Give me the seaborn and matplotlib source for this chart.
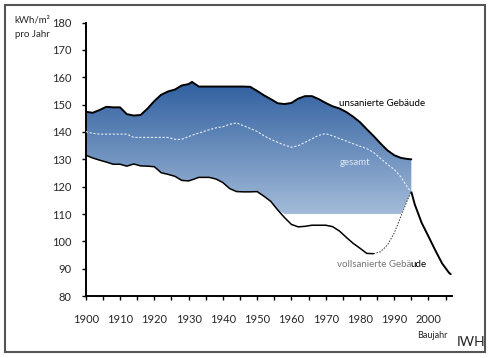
import numpy as np
import seaborn as sns
import matplotlib.pyplot as plt
from matplotlib.colors import LinearSegmentedColormap
from matplotlib.patches import Rectangle

# Baujahr grid (1900-1995) and specific heat demand in kWh/m² per year
years = [1900, 1902, 1904, 1906, 1908, 1910, 1912, 1914, 1916, 1918, 1920, 1922,
         1924, 1926, 1928, 1930, 1931, 1933, 1936, 1938, 1940, 1942, 1944, 1946,
         1948, 1950, 1952, 1954, 1956, 1958, 1960, 1962, 1964, 1966, 1968, 1970,
         1972, 1974, 1976, 1978, 1980, 1982, 1984, 1986, 1988, 1990, 1992, 1994, 1995]
unsaniert = [147.4, 147.0, 148.0, 149.2, 149.0, 149.0, 146.5, 146.0, 146.2, 148.5,
             151.3, 153.6, 154.8, 155.5, 157.0, 157.5, 158.3, 156.6, 156.6, 156.6,
             156.6, 156.6, 156.6, 156.6, 156.5, 155.0, 153.4, 152.0, 150.5, 150.2,
             150.6, 152.2, 153.1, 153.1, 152.0, 150.6, 149.4, 148.6, 147.3, 145.6,
             143.6, 141.0, 138.5, 135.8, 133.3, 131.5, 130.5, 130.1, 130.0]
vollsaniert = [131.5, 130.5, 129.7, 129.0, 128.2, 128.2, 127.5, 128.3, 127.6, 127.5,
               127.3, 125.1, 124.5, 123.8, 122.3, 122.1, 122.5, 123.4, 123.4, 122.8,
               121.5, 119.3, 118.2, 118.1, 118.1, 118.2, 116.5, 114.6, 111.5, 108.7,
               106.2, 105.3, 105.5, 105.9, 105.9, 105.9, 105.4, 103.8, 101.5, 99.3,
               97.5, 95.6, 95.5, 96.2, 98.6, 103.0, 109.3, 115.5, 118.1]
gesamt = [140.1, 139.5, 139.2, 139.2, 139.2, 139.2, 139.2, 138.0, 138.0, 138.0,
          138.0, 138.0, 138.0, 137.3, 137.3, 138.3, 138.8, 139.6, 140.8, 141.5,
          141.9, 142.8, 143.3, 142.3, 141.3, 140.2, 138.6, 137.3, 136.2, 135.2,
          134.4, 135.0, 136.2, 137.5, 138.8, 139.4, 138.6, 137.6, 136.7, 135.7,
          134.8, 133.9, 132.5, 130.3, 128.2, 126.3, 123.5, 119.5, 118.1]
# newer buildings after 1995
neu_years = [1995, 1996, 1998, 2000, 2002, 2004, 2006, 2006.5]
neu_values = [118.1, 113.5, 106.8, 101.8, 96.7, 91.9, 88.5, 88.0]
band_floor = 110  # lower limit of the shaded band

sns.set_style("white")
plt.rcParams['font.family'] = ['Lato', 'DejaVu Sans']

fig = plt.figure(figsize=(4.9, 3.58), dpi=100)
ax = fig.add_axes([0.175, 0.173, 0.747, 0.764])

yr = np.array(years)
up = np.array(unsaniert)
lo = np.array(vollsaniert)

# gradient band between unsaniert and max(vollsaniert, floor)
cmap = LinearSegmentedColormap.from_list('band', ['#a3bbd9', '#2f5f9f'])
grad = np.linspace(0, 1, 256).reshape(-1, 1)
im = ax.imshow(grad, extent=[1900, 1995, band_floor, 158.5], origin='lower',
               aspect='auto', cmap=cmap, zorder=1)
poly = ax.fill_between(yr, np.maximum(lo, band_floor), up, facecolor='none',
                       edgecolor='none')
im.set_clip_path(poly.get_paths()[0], transform=ax.transData)

sns.lineplot(x=yr, y=up, color='black', lw=1.4, ax=ax, zorder=3)
solid = yr <= 1984
sns.lineplot(x=yr[solid], y=lo[solid], color='black', lw=1.1, ax=ax, zorder=3)
sns.lineplot(x=yr[yr >= 1984], y=lo[yr >= 1984],
             color='#333333', lw=0.7, ls=(0, (1.5, 1.5)), ax=ax, zorder=3)
sns.lineplot(x=neu_years, y=neu_values, color='black', lw=1.4, ax=ax, zorder=3)
sns.lineplot(x=yr, y=gesamt, color='#e6ecf5', lw=0.8, ls=(0, (2, 1.5)), ax=ax, zorder=3)

ax.set_xlim(1900, 2006.8)
ax.set_ylim(80, 180)
ax.set_xticks(range(1900, 2001, 10))
ax.set_xticks(range(1905, 2006, 10), minor=True)
ax.set_yticks(range(80, 181, 10))
ax.tick_params(axis='x', which='both', direction='out', length=3, width=1,
               color='black', pad=10, labelsize=8, bottom=True)
ax.tick_params(axis='y', direction='out', length=3, width=1, color='black',
               pad=7, labelsize=8, left=True)
sns.despine(ax=ax)
for s in ['left', 'bottom']:
    ax.spines[s].set_color('black')
    ax.spines[s].set_linewidth(1.4)

ax.text(1974, 150.4, 'unsanierte Gebäude', fontsize=7, va='center', color='black', zorder=4)
ax.text(1974, 129, 'gesamt', fontsize=7, va='center', color='#dfe7f2', zorder=4)
voll = ax.text(1973.4, 91.4, 'vollsanierte Gebä', fontsize=7, va='center',
               color='#777777', zorder=4)
fig.canvas.draw()
bb = voll.get_window_extent()
x_end = ax.transData.inverted().transform((bb.x1 - 1.5, 0))[0]
ax.text(x_end, 91.4, 'ude', fontsize=7, va='center', ha='left', color='black', zorder=5)

fig.text(0.03, 0.944, 'kWh/m²', fontsize=7, va='center')
fig.text(0.03, 0.905, 'pro Jahr', fontsize=7, va='center')
fig.text(0.851, 0.062, 'Baujahr', fontsize=6.5, va='center')
fig.text(0.932, 0.045, 'IWH', fontsize=10, va='center')

fig.patches.append(Rectangle((0.011, 0.017), 0.979, 0.97, transform=fig.transFigure,
                             fill=False, edgecolor='#555555', lw=1.5))

fig.savefig('out.png', dpi=100)
